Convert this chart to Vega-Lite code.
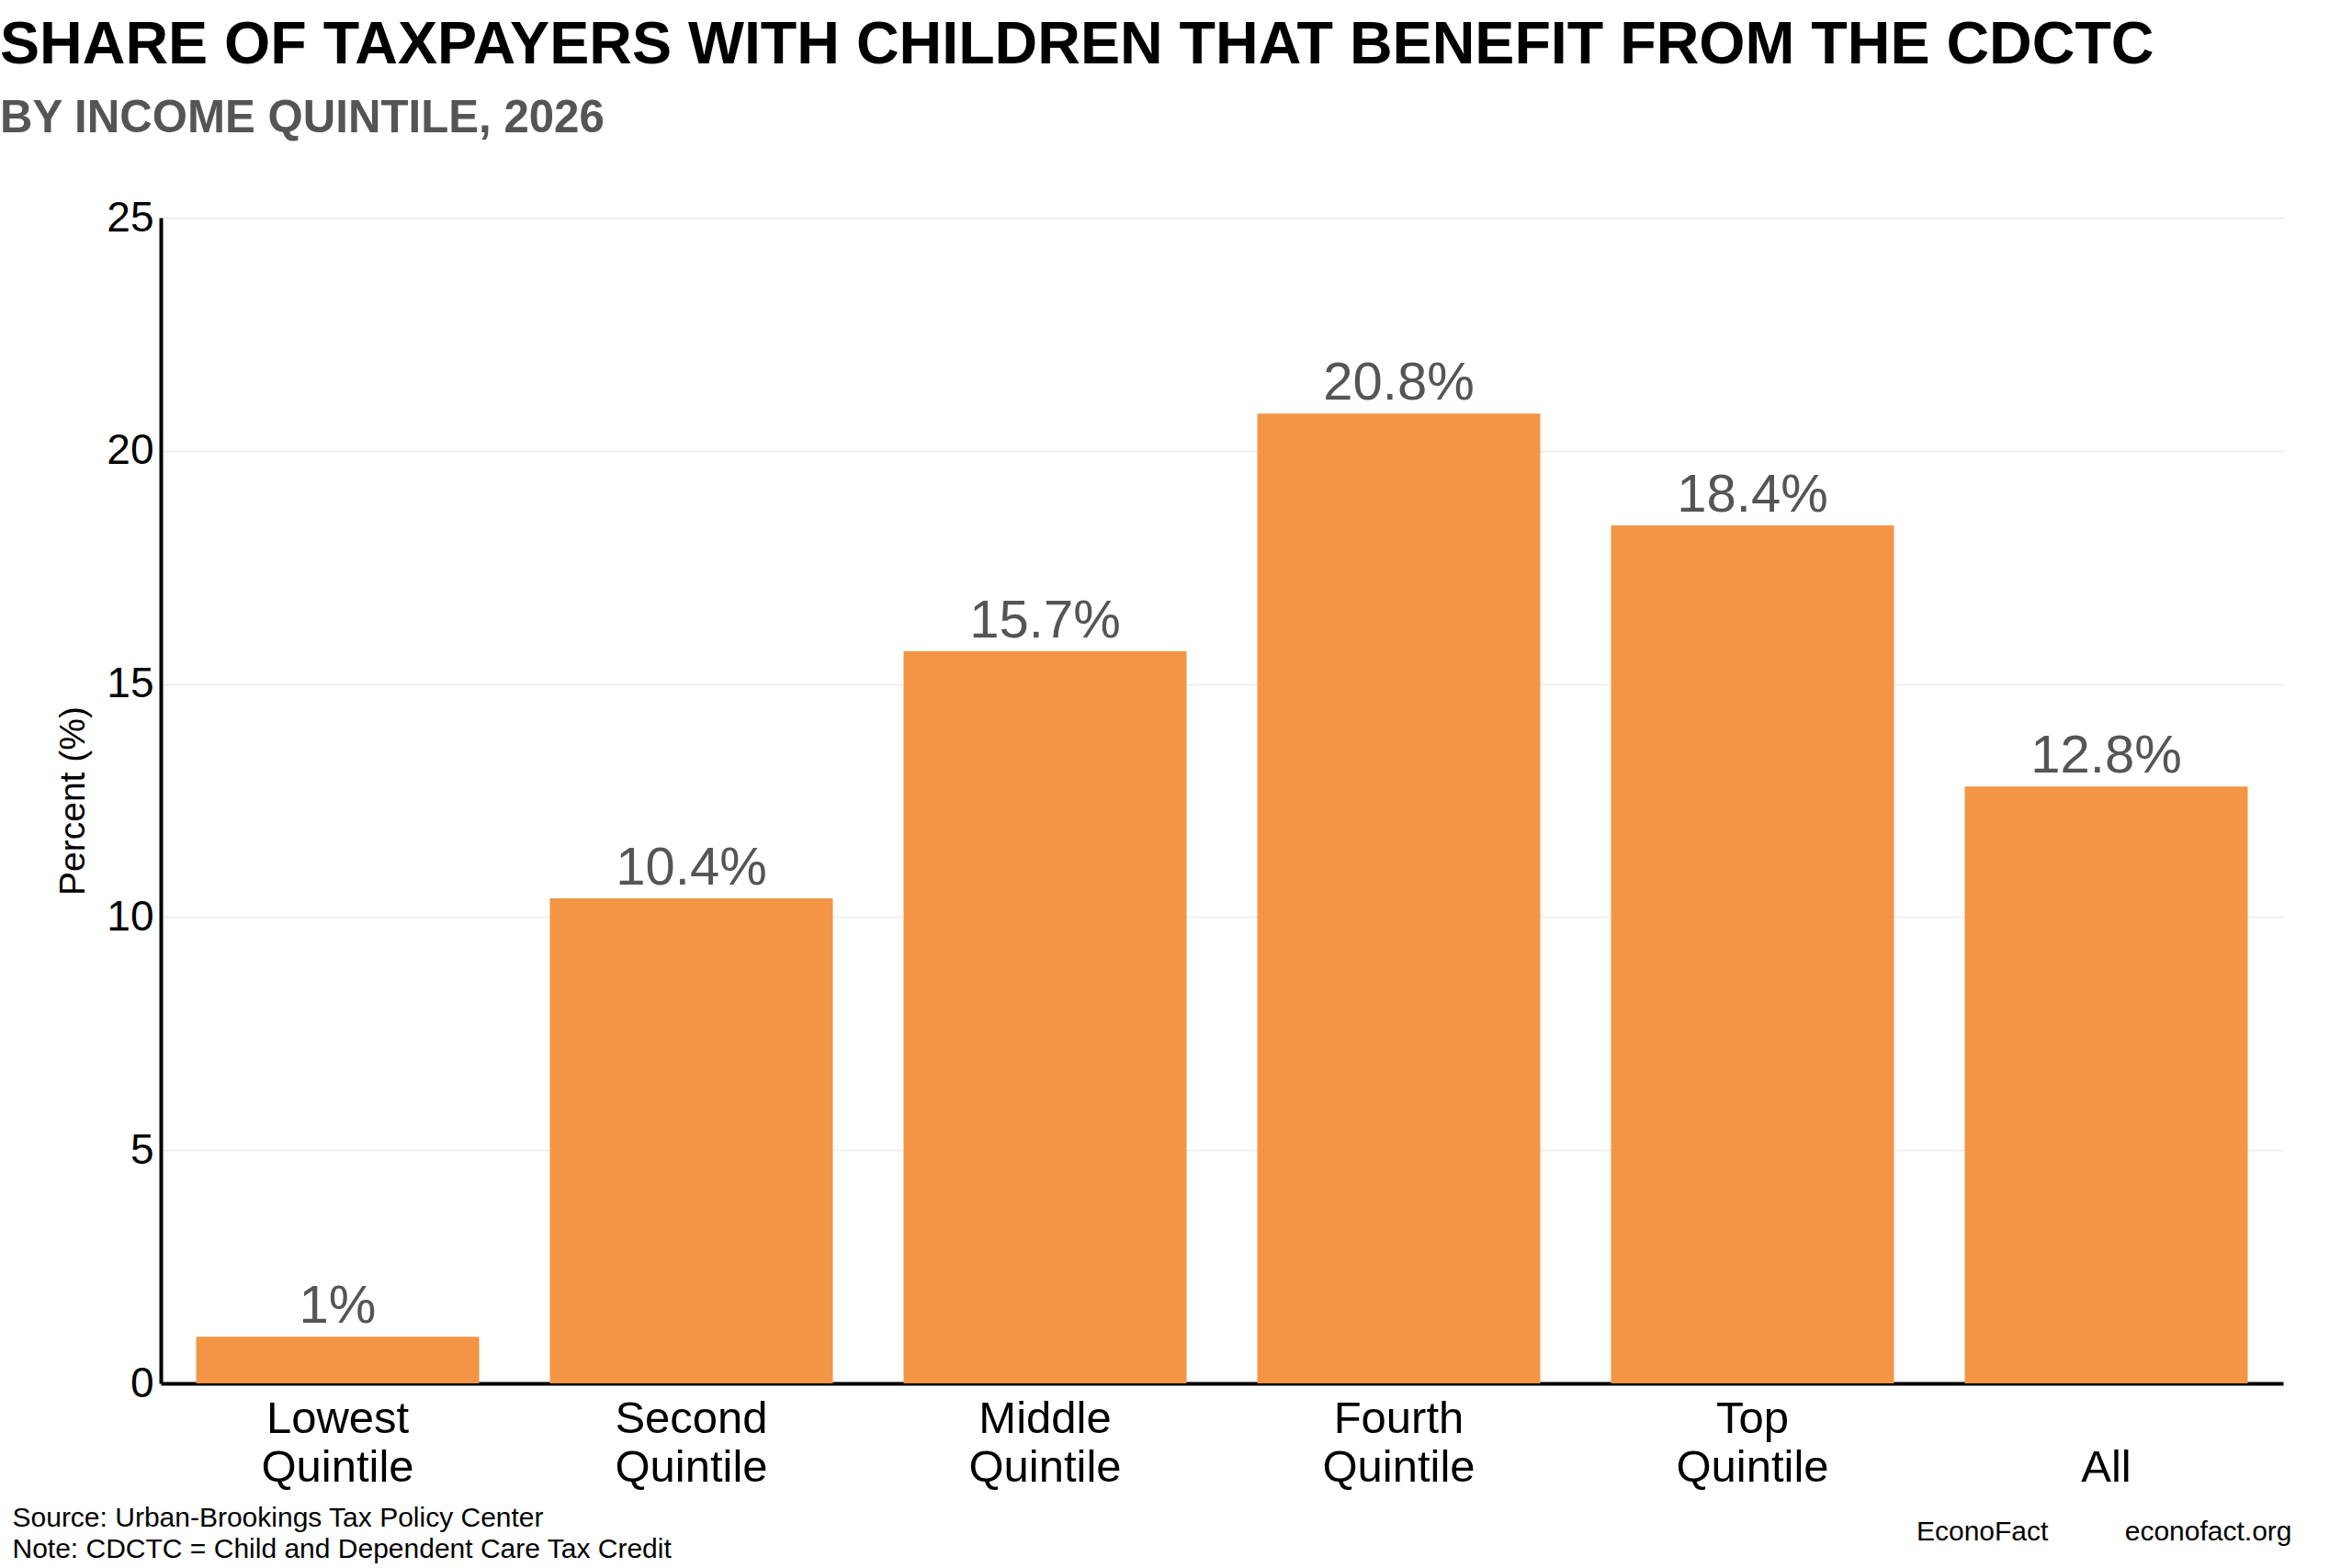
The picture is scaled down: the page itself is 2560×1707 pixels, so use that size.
{
  "$schema": "https://vega.github.io/schema/vega-lite/v6.json",
  "autosize": {"type": "none"},
  "width": 2310,
  "height": 1269,
  "padding": {"left": 175, "top": 237, "right": 75, "bottom": 201},
  "background": "white",
  "config": {
    "view": {"stroke": null},
    "font": "Liberation Sans"
  },
  "title": {
    "text": "SHARE OF TAXPAYERS WITH CHILDREN THAT BENEFIT FROM THE CDCTC",
    "subtitle": "BY INCOME QUINTILE, 2026",
    "anchor": "start",
    "frame": "group",
    "dx": -175,
    "offset": 59,
    "font": "Liberation Sans",
    "fontSize": 64.6,
    "fontWeight": "bold",
    "color": "#000000",
    "subtitleFont": "Liberation Sans",
    "subtitleFontSize": 49.2,
    "subtitleFontWeight": "bold",
    "subtitleColor": "#555555",
    "subtitlePadding": 22
  },
  "data": {
    "values": [
      {"group": "Lowest Quintile", "share": 1},
      {"group": "Second Quintile", "share": 10.4},
      {"group": "Middle Quintile", "share": 15.7},
      {"group": "Fourth Quintile", "share": 20.8},
      {"group": "Top Quintile", "share": 18.4},
      {"group": "All", "share": 12.8}
    ]
  },
  "transform": [
    {"calculate": "format(datum.share, '.3~r') + '%'", "as": "shareLabel"}
  ],
  "encoding": {
    "x": {
      "field": "group",
      "type": "nominal",
      "sort": null,
      "scale": {"paddingInner": 0.2, "paddingOuter": 0.1},
      "axis": {
        "labelExpr": "datum.value == 'All' ? ['', 'All'] : split(datum.value, ' ')",
        "labelAngle": 0,
        "labelFontSize": 49,
        "labelColor": "#000000",
        "labelLineHeight": 53,
        "labelPadding": 14,
        "labelBaseline": "top",
        "ticks": false,
        "tickSize": 0,
        "domainColor": "#000000",
        "domainWidth": 4,
        "grid": false,
        "title": ["Source: Urban-Brookings Tax Policy Center", "Note: CDCTC = Child and Dependent Care Tax Credit"],
        "titleFontSize": 30,
        "titleFontWeight": "normal",
        "titleColor": "#000000",
        "titleAlign": "left",
        "titleBaseline": "alphabetic",
        "titleLineHeight": 34,
        "titleX": -162,
        "titleY": 155
      }
    },
    "y": {
      "field": "share",
      "type": "quantitative",
      "scale": {"domain": [0, 25], "nice": false}
    }
  },
  "layer": [
    {
      "mark": {"type": "bar", "color": "#F39545"},
      "encoding": {
        "y": {
          "field": "share",
          "type": "quantitative",
          "scale": {"domain": [0, 25], "nice": false},
          "axis": {
            "values": [0, 5, 10, 15, 20, 25],
            "labelFontSize": 46,
            "labelColor": "#000000",
            "labelPadding": 8,
            "ticks": false,
            "tickSize": 0,
            "domainColor": "#000000",
            "domainWidth": 4,
            "grid": true,
            "gridColor": "#efefef",
            "gridWidth": 2,
            "title": "Percent (%)",
            "titleFontSize": 39,
            "titleFontWeight": "normal",
            "titleColor": "#000000",
            "titlePadding": 16
          }
        }
      }
    },
    {
      "mark": {"type": "text", "fontSize": 58, "color": "#555555", "baseline": "alphabetic", "dy": -15},
      "encoding": {
        "text": {"field": "shareLabel", "type": "nominal"},
        "y": {
          "field": "share",
          "type": "quantitative",
          "scale": {"domain": [0, 25], "nice": false},
          "axis": {
            "orient": "right",
            "labels": false,
            "ticks": false,
            "domain": false,
            "grid": false,
            "title": "EconoFact\u00a0\u00a0\u00a0\u00a0\u00a0\u00a0\u00a0\u00a0\u00a0\u00a0econofact.org",
            "titleAngle": 0,
            "titleAlign": "right",
            "titleBaseline": "alphabetic",
            "titleFontSize": 30,
            "titleFontWeight": "normal",
            "titleColor": "#000000",
            "titleX": 9,
            "titleY": 1439
          }
        }
      }
    }
  ],
  "resolve": {"axis": {"y": "independent"}}
}
